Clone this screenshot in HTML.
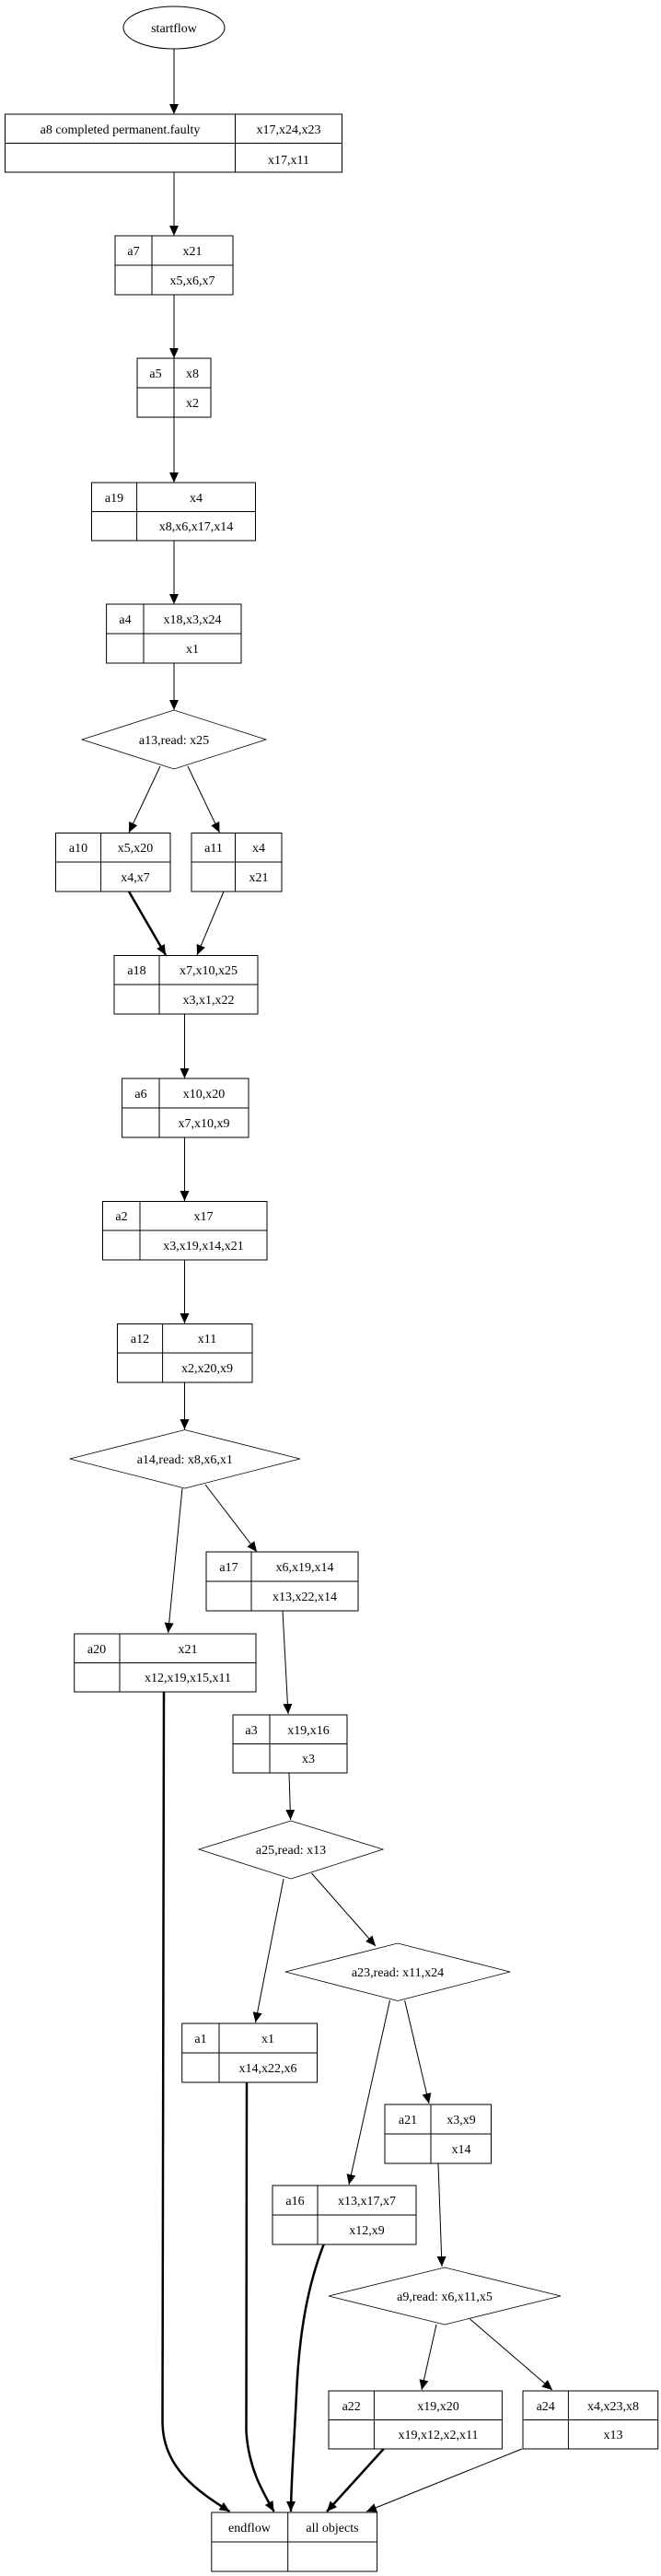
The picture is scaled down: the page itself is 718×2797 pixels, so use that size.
<!DOCTYPE html>
<html><head><meta charset="utf-8"><style>
html,body{margin:0;padding:0;background:#fff;}
svg{display:block;}
text{font-family:"Liberation Serif",serif;font-size:14px;fill:#000;}
</style></head><body>
<svg width="718" height="2797" viewBox="0 0 718 2797" xmlns="http://www.w3.org/2000/svg">
<defs>
<marker id="ah" markerUnits="userSpaceOnUse" markerWidth="12" markerHeight="10" refX="11" refY="5" orient="auto">
<path d="M0,0 L11,5 L0,10 Z" fill="#000"/>
</marker>
</defs>
<g fill="none" stroke="#000" stroke-width="1">
<ellipse cx="189" cy="30" rx="55" ry="23"/>
<g id="boxes">
<rect x="5.5" y="124" width="366" height="63"/><line x1="5.5" y1="155.5" x2="371.5" y2="155.5"/><line x1="255.5" y1="124" x2="255.5" y2="187"/>
<rect x="125" y="256" width="128" height="64"/><line x1="125" y1="288" x2="253" y2="288"/><line x1="165" y1="256" x2="165" y2="320"/>
<rect x="149" y="389" width="80" height="64"/><line x1="149" y1="421" x2="229" y2="421"/><line x1="189" y1="389" x2="189" y2="453"/>
<rect x="99.5" y="524" width="178" height="63"/><line x1="99.5" y1="555.5" x2="277.5" y2="555.5"/><line x1="148.6" y1="524" x2="148.6" y2="587"/>
<rect x="115.6" y="656" width="146.4" height="64"/><line x1="115.6" y1="688" x2="262" y2="688"/><line x1="156" y1="656" x2="156" y2="720"/>
<rect x="60.5" y="904.5" width="124.5" height="63.5"/><line x1="60.5" y1="936" x2="185" y2="936"/><line x1="109.6" y1="904.5" x2="109.6" y2="968"/>
<rect x="208" y="904.5" width="98" height="63.5"/><line x1="208" y1="936" x2="306" y2="936"/><line x1="255.5" y1="904.5" x2="255.5" y2="968"/>
<rect x="124" y="1037.5" width="156" height="63.5"/><line x1="124" y1="1069" x2="280" y2="1069"/><line x1="173" y1="1037.5" x2="173" y2="1101"/>
<rect x="132.6" y="1171" width="137.4" height="64"/><line x1="132.6" y1="1203" x2="270" y2="1203"/><line x1="173" y1="1171" x2="173" y2="1235"/>
<rect x="111.5" y="1304.5" width="178.5" height="63.5"/><line x1="111.5" y1="1336" x2="290" y2="1336"/><line x1="152" y1="1304.5" x2="152" y2="1368"/>
<rect x="127.5" y="1437.5" width="146.5" height="63.5"/><line x1="127.5" y1="1469" x2="274" y2="1469"/><line x1="176.6" y1="1437.5" x2="176.6" y2="1501"/>
<rect x="224" y="1685" width="165" height="64"/><line x1="224" y1="1717" x2="389" y2="1717"/><line x1="273" y1="1685" x2="273" y2="1749"/>
<rect x="80.7" y="1774" width="197.3" height="63"/><line x1="80.7" y1="1805.5" x2="278" y2="1805.5"/><line x1="130" y1="1774" x2="130" y2="1837"/>
<rect x="253" y="1862" width="124" height="63"/><line x1="253" y1="1893.5" x2="377" y2="1893.5"/><line x1="293" y1="1862" x2="293" y2="1925"/>
<rect x="197.7" y="2197" width="146.8" height="64"/><line x1="197.7" y1="2229" x2="344.5" y2="2229"/><line x1="238" y1="2197" x2="238" y2="2261"/>
<rect x="418" y="2285" width="115.5" height="64"/><line x1="418" y1="2317" x2="533.5" y2="2317"/><line x1="468" y1="2285" x2="468" y2="2349"/>
<rect x="296" y="2373" width="156" height="64"/><line x1="296" y1="2405" x2="452" y2="2405"/><line x1="345" y1="2373" x2="345" y2="2437"/>
<rect x="357" y="2596" width="188.4" height="63"/><line x1="357" y1="2627.5" x2="545.4" y2="2627.5"/><line x1="406.4" y1="2596" x2="406.4" y2="2659"/>
<rect x="568" y="2596" width="146.7" height="63"/><line x1="568" y1="2627.5" x2="714.7" y2="2627.5"/><line x1="617.4" y1="2596" x2="617.4" y2="2659"/>
<rect x="229.8" y="2728" width="179.8" height="64"/><line x1="229.8" y1="2760" x2="409.6" y2="2760"/><line x1="312.7" y1="2728" x2="312.7" y2="2792"/>
</g>
<polygon points="89,803 189,771 289,803 189,835" stroke-width="0.8"/>
<polygon points="75.8,1584 200.8,1552.5 325.8,1584 200.8,1616" stroke-width="0.8"/>
<polygon points="216,2008 316,1977 416,2008 316,2040" stroke-width="0.8"/>
<polygon points="310,2141 432,2110 554,2141 432,2172.5" stroke-width="0.8"/>
<polygon points="357,2493 483,2462 609,2493 483,2524" stroke-width="0.8"/>
</g>
<g fill="none" stroke="#000" stroke-width="1" marker-end="url(#ah)">
<line x1="189" y1="53" x2="189" y2="124"/>
<line x1="189" y1="187" x2="189" y2="256"/>
<line x1="189" y1="320" x2="189" y2="389"/>
<line x1="189" y1="453" x2="189" y2="524"/>
<line x1="189" y1="587" x2="189" y2="656"/>
<line x1="189" y1="720" x2="189" y2="771"/>
<line x1="174" y1="832" x2="140" y2="904"/>
<line x1="204" y1="832" x2="238.5" y2="904"/>
<path d="M140,968 L180,1037" stroke-width="2.5"/>
<line x1="243" y1="968" x2="214" y2="1037"/>
<line x1="200.5" y1="1101" x2="200.5" y2="1171"/>
<line x1="200.5" y1="1235" x2="200.5" y2="1304"/>
<line x1="200.5" y1="1368" x2="200.5" y2="1437"/>
<line x1="200.5" y1="1501" x2="200.5" y2="1552"/>
<line x1="198" y1="1616" x2="182.6" y2="1773"/>
<line x1="223" y1="1612" x2="279" y2="1685"/>
<line x1="307" y1="1749" x2="313" y2="1861"/>
<line x1="314" y1="1925" x2="315.6" y2="1976"/>
<line x1="308" y1="2040" x2="277.5" y2="2196"/>
<line x1="338.5" y1="2034" x2="408" y2="2113"/>
<line x1="423.5" y1="2172" x2="379" y2="2372"/>
<line x1="439.6" y1="2172" x2="466" y2="2284"/>
<line x1="476" y1="2349" x2="480" y2="2461"/>
<line x1="474" y1="2524" x2="458" y2="2595"/>
<line x1="510.5" y1="2518" x2="600" y2="2595"/>
<path d="M178,1837 L176.5,2629 C176.5,2680 215,2705 249.5,2727" stroke-width="2.5"/>
<path d="M268,2261 L267.5,2640 C270,2680 285,2705 297.6,2727" stroke-width="2.5"/>
<path d="M351.6,2437 C335,2480 325,2530 322,2600 C319,2660 316,2700 316,2727" stroke-width="2.5"/>
<path d="M416.7,2659 L355,2727" stroke-width="2.5"/>
<path d="M567,2659 L398,2727"/>
</g>
<g text-anchor="middle">
<text x="189" y="35">startflow</text>
<text x="130.5" y="145">a8 completed permanent.faulty</text><text x="313.5" y="145">x17,x24,x23</text><text x="313.5" y="178">x17,x11</text>
<text x="145" y="277">a7</text><text x="209" y="277">x21</text><text x="209" y="309">x5,x6,x7</text>
<text x="169" y="410">a5</text><text x="209" y="410">x8</text><text x="209" y="442">x2</text>
<text x="124" y="545">a19</text><text x="213" y="545">x4</text><text x="213" y="576">x8,x6,x17,x14</text>
<text x="136" y="677">a4</text><text x="209" y="677">x18,x3,x24</text><text x="209" y="709">x1</text>
<text x="189" y="808">a13,read: x25</text>
<text x="85" y="925">a10</text><text x="147" y="925">x5,x20</text><text x="147" y="957">x4,x7</text>
<text x="232" y="925">a11</text><text x="281" y="925">x4</text><text x="281" y="957">x21</text>
<text x="148.5" y="1058">a18</text><text x="226.5" y="1058">x7,x10,x25</text><text x="226.5" y="1090">x3,x1,x22</text>
<text x="153" y="1192">a6</text><text x="221.5" y="1192">x10,x20</text><text x="221.5" y="1224">x7,x10,x9</text>
<text x="132" y="1325">a2</text><text x="221" y="1325">x17</text><text x="221" y="1357">x3,x19,x14,x21</text>
<text x="152" y="1458">a12</text><text x="225" y="1458">x11</text><text x="225" y="1490">x2,x20,x9</text>
<text x="200.8" y="1589">a14,read: x8,x6,x1</text>
<text x="248.5" y="1706">a17</text><text x="331" y="1706">x6,x19,x14</text><text x="331" y="1738">x13,x22,x14</text>
<text x="105" y="1795">a20</text><text x="204" y="1795">x21</text><text x="204" y="1826">x12,x19,x15,x11</text>
<text x="273" y="1883">a3</text><text x="335" y="1883">x19,x16</text><text x="335" y="1914">x3</text>
<text x="316" y="2013">a25,read: x13</text>
<text x="432" y="2146">a23,read: x11,x24</text>
<text x="218" y="2218">a1</text><text x="291" y="2218">x1</text><text x="291" y="2250">x14,x22,x6</text>
<text x="443" y="2306">a21</text><text x="501" y="2306">x3,x9</text><text x="501" y="2338">x14</text>
<text x="320.5" y="2394">a16</text><text x="398.5" y="2394">x13,x17,x7</text><text x="398.5" y="2426">x12,x9</text>
<text x="483" y="2498">a9,read: x6,x11,x5</text>
<text x="381.7" y="2617">a22</text><text x="476" y="2617">x19,x20</text><text x="476" y="2648">x19,x12,x2,x11</text>
<text x="592.7" y="2617">a24</text><text x="666" y="2617">x4,x23,x8</text><text x="666" y="2648">x13</text>
<text x="271" y="2749">endflow</text><text x="361" y="2749">all objects</text>
</g>
</svg>
</body></html>
